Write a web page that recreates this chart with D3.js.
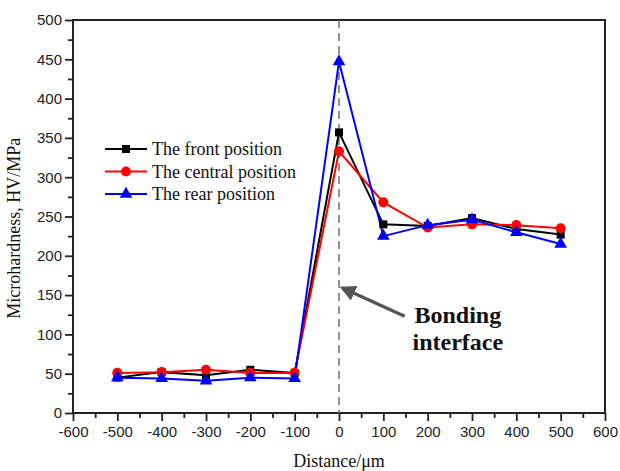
<!DOCTYPE html>
<html>
<head>
<meta charset="utf-8">
<script src="https://cdn.jsdelivr.net/npm/d3@7"></script>
<style>
  body { margin: 0; background: #fff; }
  svg { display: block; }
</style>
</head>
<body>
<svg id="js-svg" width="620" height="471"></svg>
<script>
// distance from bonding interface, um
const distances = [-500, -400, -300, -200, -100, 0, 100, 200, 300, 400, 500];
const frontHV = [45, 52, 48, 55, 51, 357, 240, 238, 248, 234, 227];
const centralHV = [51, 52, 55, 51, 51, 333, 268, 236, 240, 239, 235];
const rearHV = [45, 44, 41, 45, 44, 447, 225, 239, 246, 230, 215];
const seriesNames = ["The front position", "The central position", "The rear position"];
const xTicks = [-600, -500, -400, -300, -200, -100, 0, 100, 200, 300, 400, 500, 600];
const yTicks = [0, 50, 100, 150, 200, 250, 300, 350, 400, 450, 500];

const width = 620, height = 471;
const margin = { top: 20, right: 15, bottom: 58, left: 73 };

const svg = d3.select("#js-svg");

const xscale = d3.scaleLinear().domain([-600, 600]).range([margin.left, width - margin.right]);
const yscale = d3.scaleLinear().domain([0, 500]).range([height - margin.bottom, margin.top]);

const series = [
  { name: seriesNames[0], values: frontHV, color: "#000000", symbol: d3.symbolSquare, size: 64 },
  { name: seriesNames[1], values: centralHV, color: "#ff0000", symbol: d3.symbolCircle, size: 80 },
  { name: seriesNames[2], values: rearHV, color: "#0000ff", symbol: d3.symbolTriangle, size: 70 },
];

// minor ticks first, then majors on top
const xMinor = d3.range(-550, 600, 100);
const yMinor = d3.range(25, 500, 50);

svg.append("g")
  .attr("transform", `translate(0,${yscale(0)})`)
  .call(d3.axisBottom(xscale).tickValues(xMinor).tickSize(5).tickFormat(""))
  .call((g) => g.select(".domain").remove());
svg.append("g")
  .attr("transform", `translate(${xscale(-600)},0)`)
  .call(d3.axisLeft(yscale).tickValues(yMinor).tickSize(5).tickFormat(""))
  .call((g) => g.select(".domain").remove());

// plain hyphen minus like the original
const plain = (d) => String(d);

const xAxis = svg.append("g")
  .attr("class", "x axis")
  .attr("transform", `translate(0,${yscale(0)})`)
  .call(d3.axisBottom(xscale).tickValues(xTicks).tickFormat(plain).tickSize(8).tickPadding(5));
const yAxis = svg.append("g")
  .attr("class", "y axis")
  .attr("transform", `translate(${xscale(-600)},0)`)
  .call(d3.axisLeft(yscale).tickValues(yTicks).tickFormat(plain).tickSize(8).tickPadding(3));

[xAxis, yAxis].forEach((g) => {
  g.select(".domain").remove();
  g.selectAll(".tick text")
    .attr("font-family", "Liberation Sans, Arial, sans-serif")
    .attr("font-size", 15)
    .attr("fill", "#222");
});
svg.selectAll(".tick line").attr("stroke", "#222").attr("stroke-width", 1.8);

// frame
svg.append("rect")
  .attr("x", xscale(-600))
  .attr("y", yscale(500))
  .attr("width", xscale(600) - xscale(-600))
  .attr("height", yscale(0) - yscale(500))
  .attr("fill", "none")
  .attr("stroke", "#222")
  .attr("stroke-width", 2);

// interface line
svg.append("line")
  .attr("x1", xscale(0)).attr("x2", xscale(0))
  .attr("y1", yscale(500)).attr("y2", yscale(0))
  .attr("stroke", "#777")
  .attr("stroke-width", 1.6)
  .attr("stroke-dasharray", "8,5");

// series lines
const line = d3.line()
  .x((d, i) => xscale(distances[i]))
  .y((d) => yscale(d));

series.forEach((s) => {
  svg.append("path")
    .datum(s.values)
    .attr("d", line)
    .attr("fill", "none")
    .attr("stroke", s.color)
    .attr("stroke-width", 2);
});
series.forEach((s) => {
  svg.append("g")
    .selectAll("path")
    .data(s.values)
    .join("path")
    .attr("transform", (d, i) => `translate(${xscale(distances[i])},${yscale(d)})`)
    .attr("d", d3.symbol().type(s.symbol).size(s.size))
    .attr("fill", s.color);
});

// legend
const legend = svg.append("g").attr("transform", "translate(105,149)");
series.forEach((s, i) => {
  const row = legend.append("g").attr("transform", `translate(0,${i * 22.5})`);
  row.append("line")
    .attr("x1", 0).attr("x2", 42)
    .attr("stroke", s.color).attr("stroke-width", 2);
  row.append("path")
    .attr("transform", "translate(21,0)")
    .attr("d", d3.symbol().type(s.symbol).size(s.size))
    .attr("fill", s.color);
  row.append("text")
    .attr("x", 47).attr("y", 6)
    .attr("font-family", "Liberation Serif, Times New Roman, serif")
    .attr("font-size", 18)
    .attr("fill", "#111")
    .text(s.name);
});

// annotation arrow
const arrowFrom = [148, 123];
const arrowTo = [8, 159];
svg.append("defs").append("marker")
  .attr("id", "arrowhead")
  .attr("viewBox", "0 0 10 10")
  .attr("refX", 8).attr("refY", 5)
  .attr("markerWidth", 5).attr("markerHeight", 5)
  .attr("markerUnits", "strokeWidth")
  .attr("orient", "auto")
  .append("path")
  .attr("d", "M0,0 L10,5 L0,10 z")
  .attr("fill", "#555");
svg.append("line")
  .attr("x1", xscale(arrowFrom[0])).attr("y1", yscale(arrowFrom[1]))
  .attr("x2", xscale(arrowTo[0])).attr("y2", yscale(arrowTo[1]))
  .attr("stroke", "#555")
  .attr("stroke-width", 3.2)
  .attr("marker-end", "url(#arrowhead)");

const note = svg.append("text")
  .attr("text-anchor", "middle")
  .attr("font-family", "Liberation Serif, Times New Roman, serif")
  .attr("font-weight", "bold")
  .attr("font-size", 24)
  .attr("fill", "#111");
note.append("tspan").attr("x", xscale(268)).attr("y", yscale(115)).text("Bonding");
note.append("tspan").attr("x", xscale(268)).attr("y", yscale(80)).text("interface");

// axis titles
svg.append("text")
  .attr("x", xscale(0)).attr("y", 467)
  .attr("text-anchor", "middle")
  .attr("font-family", "Liberation Serif, Times New Roman, serif")
  .attr("font-size", 18)
  .attr("fill", "#111")
  .text("Distance/\u03bcm");
svg.append("text")
  .attr("transform", `translate(20,${yscale(235)}) rotate(-90)`)
  .attr("text-anchor", "middle")
  .attr("font-family", "Liberation Serif, Times New Roman, serif")
  .attr("font-size", 18)
  .attr("fill", "#111")
  .text("Microhardness, HV/MPa");
</script>
</body>
</html>
